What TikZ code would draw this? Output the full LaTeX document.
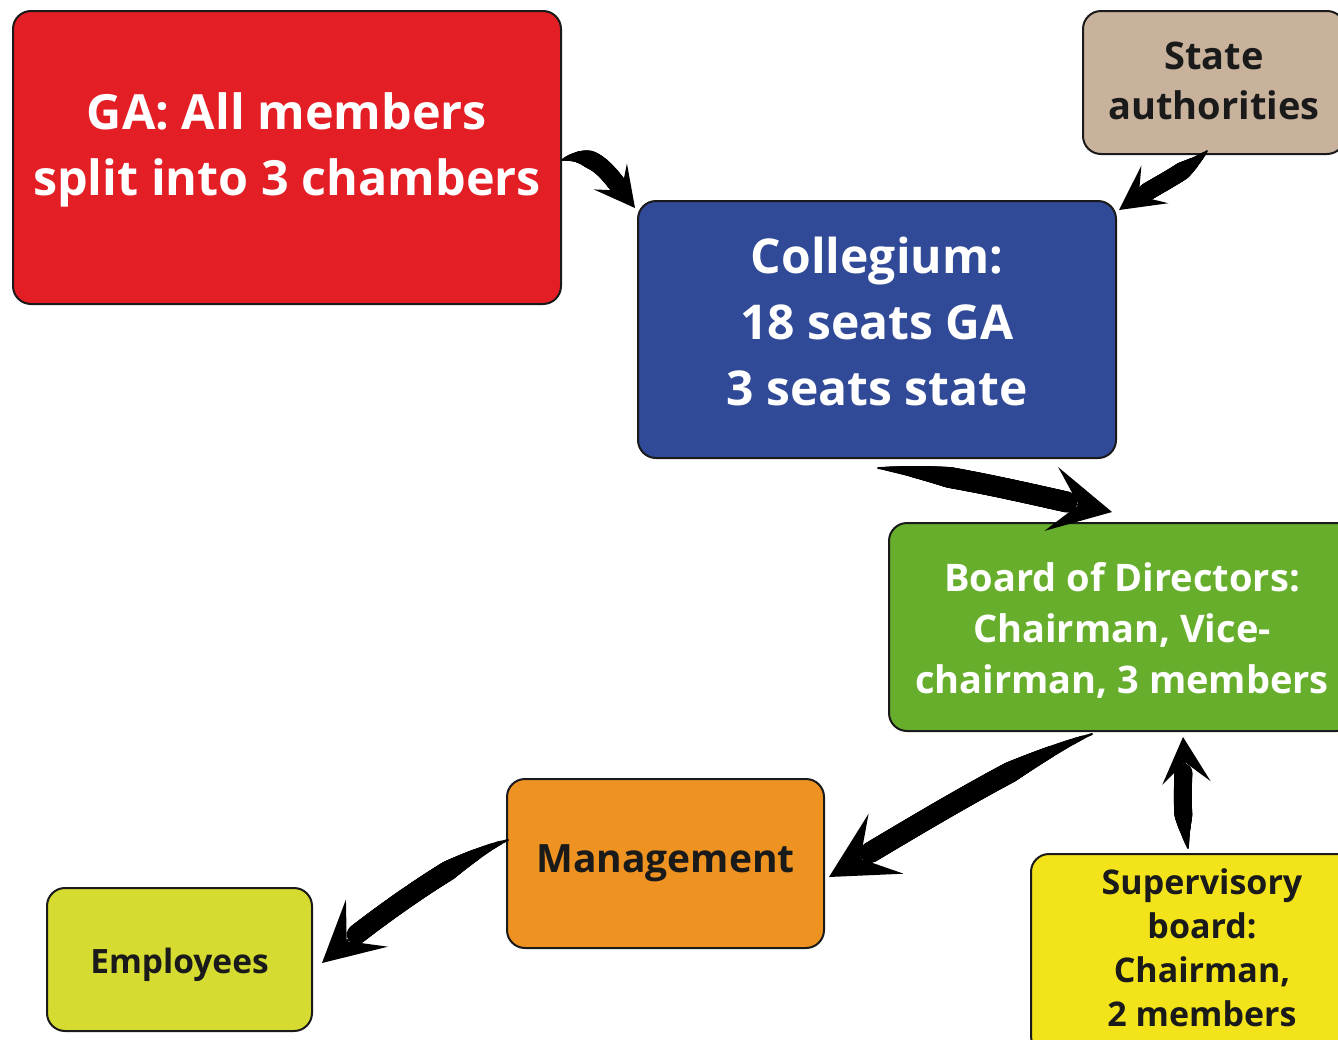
\documentclass[tikz,border=0pt]{standalone}
\usepackage{fontspec}
\setmainfont{Open Sans}
\usetikzlibrary{arrows.meta,calc,decorations.markings}
\definecolor{cRed}{HTML}{E31E25}
\definecolor{cTan}{HTML}{C9B29C}
\definecolor{cBlue}{HTML}{314A98}
\definecolor{cGreen}{HTML}{67AE2C}
\definecolor{cOrange}{HTML}{EE9322}
\definecolor{cLime}{HTML}{D5DB30}
\definecolor{cYellow}{HTML}{F2E31A}
\definecolor{cInk}{HTML}{1A1A1A}
\tikzset{
  box/.style={draw=cInk, line width=2pt, rounded corners=18pt, anchor=north west,
    inner sep=0pt},
  lbl/.style={align=center, inner sep=0pt, font=\bfseries},
  taper/.style 2 args={decoration={markings,
    mark=between positions 0 and 1 step 1pt with {%
      \pgfmathsetmacro\dd{\pgfkeysvalueof{/pgf/decoration/mark info/distance from start}}%
      \pgfmathsetmacro\rr{(\dd<(\pgfdecoratedpathlength-0.75*#2))*(1+#1*min(1,\dd/(0.3*\pgfdecoratedpathlength)))}%
      \fill[black] (0,0) circle (\rr pt);}}, decorate},
}
% start, control1 (rel), control2 (rel), end, head length, half thickness
\newcommand\curlyarrow[6]{%
  \path[taper={#6}{#5}] (#1) .. controls +#2 and +#3 .. (#4);
  \path[draw=black, line width=2pt,
    -{Stealth[length=#5pt 0 0, width=1.05*#5pt 0 0, inset=0.45*#5pt 0 0]}]
    (#1) .. controls +#2 and +#3 .. (#4);
}
\begin{document}
\begin{tikzpicture}[x=1pt,y=-1pt]
\useasboundingbox (0,0) rectangle (1338,1039);
\clip (0,0) rectangle (1338,1039);
\fill[white] (0,0) rectangle (1338,1039);

\node[box, fill=cRed, minimum width=548pt, minimum height=293pt] (ga) at (12,10) {};
\node[box, fill=cTan, minimum width=262pt, minimum height=143pt] (st) at (1082,10) {};
\node[box, fill=cBlue, minimum width=478pt, minimum height=257pt] (col) at (637,200) {};
\node[box, fill=cGreen, minimum width=466pt, minimum height=208pt] (bd) at (888,522) {};
\node[box, fill=cOrange, minimum width=317pt, minimum height=169pt] (mg) at (506,778) {};
\node[box, fill=cLime, minimum width=265pt, minimum height=143pt] (em) at (46,887) {};
\node[box, fill=cYellow, minimum width=342pt, minimum height=200pt] (sv) at (1030,853) {};

\node[lbl, text=white, font=\bfseries\fontsize{48.5}{66}\selectfont] (gaT)
  at ($(ga.center)+(0,-8)$) {GA: All members\\split into 3 chambers};
\node[lbl, text=cInk, font=\bfseries\fontsize{38}{50}\selectfont] (stT)
  at ($(st.center)+(0,-2)$) {State\\authorities};
\node[lbl, text=white, font=\bfseries\fontsize{48}{66}\selectfont] (colT)
  at ($(col.center)+(0,-8)$) {Collegium:\\18 seats GA\\3 seats state};
\node[lbl, text=white, font=\bfseries\fontsize{38}{51}\selectfont] (bdT)
  at ($(bd.center)+(0,3)$) {Board of Directors:\\Chairman, Vice-\\chairman, 3 members};
\node[lbl, text=cInk, font=\bfseries\fontsize{39}{44}\selectfont] (mgT)
  at (mg.center) {Management};
\node[lbl, text=cInk, font=\bfseries\fontsize{33.5}{44}\selectfont] (emT)
  at ($(em.center)+(0,5)$) {Employees};
\node[lbl, text=cInk, font=\bfseries\fontsize{34}{44}\selectfont] (svT)
  at ($(sv.center)+(0,-6)$) {Supervisory\\board:\\Chairman,\\2 members};

% arrows
\coordinate (a1s) at ($(ga.north east)+(0,150)$);
\coordinate (a1t) at ($(col.north west)+(-2,8)$);
\curlyarrow{a1s}{(35,-12)}{(-25,-32)}{a1t}{40}{8}

\coordinate (a2s) at ($(st.south west)+(125,-4)$);
\coordinate (a2t) at ($(col.north east)+(2,10)$);
\curlyarrow{a2s}{(-25,25)}{(35,-25)}{a2t}{44}{8}

\coordinate (a3s) at ($(col.south west)+(241,9)$);
\coordinate (a3t) at ($(bd.north west)+(224,-10)$);
\curlyarrow{a3s}{(70,5)}{(-70,-15)}{a3t}{62}{9.5}

\coordinate (a4s) at ($(bd.south west)+(204,2)$);
\coordinate (a4t) at ($(mg.north east)+(4,99)$);
\curlyarrow{a4s}{(-70,25)}{(60,-35)}{a4t}{66}{9.5}

\coordinate (a5s) at ($(sv.north west)+(158,-5)$);
\coordinate (a5t) at ($(bd.south west)+(295,5)$);
\curlyarrow{a5s}{(-10,-50)}{(3,40)}{a5t}{46}{8}

\coordinate (a6s) at ($(mg.north west)+(2,62)$);
\coordinate (a6t) at ($(em.north east)+(9,76)$);
\curlyarrow{a6s}{(-45,15)}{(45,-40)}{a6t}{60}{9}
\end{tikzpicture}
\end{document}
